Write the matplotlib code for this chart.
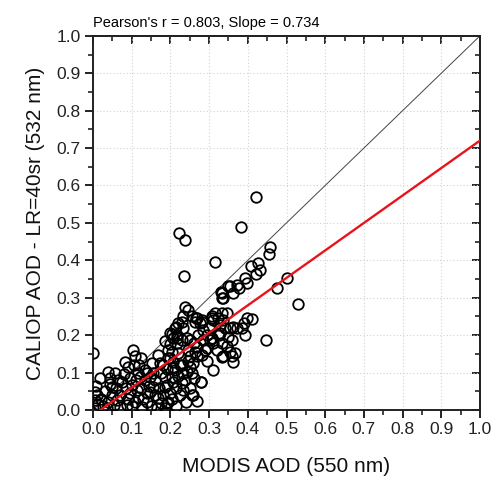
import numpy as np
import matplotlib
matplotlib.use('Agg')
import matplotlib.pyplot as plt

plt.rcParams['font.family'] = ['Liberation Sans', 'DejaVu Sans']

# MODIS AOD (x) / CALIOP AOD (y)
modis_aod = [
    0.421, 0.383, 0.221, 0.238, 0.235, 0.315, 0.458, 0.456, 0.407, 0.427, 0.432, 0.420,
    0.394, 0.397, 0.376, 0.354, 0.332, 0.363, 0.337, 0.476, 0.500, 0.531, 0.446,
    0.410, 0.397, 0.389, 0.384, 0.393, 0.363, 0.358, 0.350, 0.371, 0.333, 0.333,
    0.307, 0.315, 0.333, 0.345, 0.324, 0.337, 0.311, 0.328, 0.302, 0.285, 0.294, 0.328,
    0.354, 0.371, 0.350, 0.333, 0.333, 0.354, 0.367, 0.363, 0.336, 0.309, 0.278, 0.268,
    0.259, 0.294, 0.268, 0.268, 0.281, 0.264, 0.307,
    0.238, 0.246, 0.255, 0.268, 0.281, 0.264, 0.233, 0.229, 0.220, 0.212, 0.199, 0.216,
    0.229, 0.242, 0.208, 0.266, 0.281, 0.277, 0.307, 0.214, 0.233, 0.203, 0.216, 0.251,
    0.186, 0.216, 0.278, 0.255, 0.233, 0.199, 0.195, 0.177, 0.208, 0.212, 0.233, 0.208,
    0.229, 0.238, 0.186, 0.190, 0.203, 0.220, 0.203, 0.251, 0.259, 0.242, 0.225, 0.245,
    0.195, 0.180, 0.215, 0.250, 0.260,
    0.000, 0.103, 0.108, 0.082, 0.090, 0.039, 0.058, 0.017, 0.043, 0.168, 0.172, 0.004,
    0.004, 0.048, 0.124, 0.134, 0.121, 0.100, 0.096, 0.113, 0.109, 0.087, 0.070, 0.061,
    0.147, 0.152, 0.156, 0.147, 0.169, 0.139, 0.126, 0.190, 0.186, 0.208, 0.199,
    0.010, 0.020, 0.012, 0.025, 0.030, 0.040, 0.050, 0.060, 0.070, 0.075, 0.085, 0.090,
    0.100, 0.110, 0.115, 0.120, 0.125, 0.130, 0.135, 0.140, 0.145, 0.150, 0.155, 0.160,
    0.160, 0.165, 0.170, 0.175, 0.180, 0.185, 0.190, 0.195, 0.200, 0.205, 0.215, 0.220,
    0.225, 0.230, 0.240, 0.245, 0.250, 0.255, 0.262, 0.272, 0.285, 0.290, 0.295, 0.300,
    0.310, 0.320, 0.325, 0.340, 0.345, 0.360, 0.035, 0.055, 0.045, 0.065, 0.080, 0.095,
    0.105, 0.115, 0.140, 0.005, 0.008,
]
caliop_aod = [
    0.570, 0.490, 0.474, 0.453, 0.358, 0.395, 0.435, 0.416, 0.386, 0.392, 0.374, 0.364,
    0.352, 0.339, 0.327, 0.332, 0.314, 0.312, 0.298, 0.327, 0.354, 0.283, 0.187,
    0.242, 0.245, 0.232, 0.218, 0.201, 0.223, 0.187, 0.330, 0.334, 0.312, 0.298,
    0.250, 0.258, 0.258, 0.258, 0.245, 0.241, 0.241, 0.227, 0.187, 0.187, 0.201, 0.205,
    0.218, 0.218, 0.196, 0.178, 0.141, 0.156, 0.152, 0.127, 0.143, 0.107, 0.074, 0.024,
    0.040, 0.165, 0.169, 0.143, 0.147, 0.156, 0.192,
    0.275, 0.267, 0.250, 0.245, 0.236, 0.236, 0.250, 0.236, 0.232, 0.218, 0.205, 0.201,
    0.187, 0.192, 0.192, 0.247, 0.241, 0.232, 0.245, 0.223, 0.218, 0.202, 0.192, 0.187,
    0.183, 0.178, 0.076, 0.040, 0.053, 0.044, 0.022, 0.018, 0.129, 0.107, 0.098, 0.076,
    0.071, 0.080, 0.089, 0.067, 0.089, 0.152, 0.156, 0.143, 0.125, 0.102, 0.120, 0.160,
    0.140, 0.120, 0.060, 0.115, 0.085,
    0.153, 0.160, 0.144, 0.129, 0.116, 0.102, 0.098, 0.085, 0.085, 0.147, 0.125, 0.049,
    0.027, 0.062, 0.138, 0.107, 0.089, 0.067, 0.045, 0.053, 0.022, 0.013, 0.009, 0.027,
    0.089, 0.125, 0.062, 0.049, 0.031, 0.022, 0.009, 0.018, 0.062, 0.111, 0.138,
    0.040, 0.030, 0.015, 0.010, 0.050, 0.020, 0.040, 0.060, 0.040, 0.075, 0.060, 0.030,
    0.010, 0.080, 0.100, 0.120, 0.060, 0.030, 0.080, 0.100, 0.065, 0.010, 0.100, 0.080,
    0.040, 0.005, 0.060, 0.100, 0.040, 0.005, 0.110, 0.160, 0.175, 0.030, 0.010, 0.090,
    0.040, 0.120, 0.020, 0.130, 0.060, 0.100, 0.180, 0.200, 0.215, 0.160, 0.130, 0.220,
    0.180, 0.160, 0.200, 0.220, 0.170, 0.145, 0.005, 0.012, 0.070, 0.080, 0.095, 0.085,
    0.120, 0.035, 0.045, 0.005, 0.065,
]
pearson_r = 0.803
slope = 0.734
intercept = -0.014

fig = plt.figure(figsize=(5.0, 4.84), dpi=100)
ax = fig.add_axes([0.186, 0.153, 0.774, 0.773])

ax.grid(True, color='#d2d2d2', linestyle=(0, (1, 2)), linewidth=0.8)
ax.set_axisbelow(True)

ax.plot([0, 1], [0, 1], color='#444444', linewidth=0.7, zorder=2)
ax.plot(modis_aod, caliop_aod, 'o', mfc='none', mec='black', ms=7.6, mew=1.3, zorder=3)
xl = np.array([0.0, 1.0])
ax.plot(xl, slope * xl + intercept, color='#e8141c', linewidth=1.7, zorder=4)

ax.set_xlim(0, 1)
ax.set_ylim(0, 1)
ticks = np.round(np.arange(0, 1.01, 0.1), 1)
ax.set_xticks(ticks)
ax.set_yticks(ticks)
ax.set_xticks(np.arange(0.05, 1, 0.1), minor=True)
ax.set_yticks(np.arange(0.05, 1, 0.1), minor=True)
ax.set_xticklabels(['%.1f' % t for t in ticks])
ax.set_yticklabels(['%.1f' % t for t in ticks])
ax.tick_params(which='major', direction='out', length=6, width=1.4, labelsize=12.5, colors='#222222', pad=3)
ax.tick_params(which='minor', direction='out', length=3.5, width=1.2, colors='#222222')

# mirrored ticks on top and right, pointing in
top = ax.secondary_xaxis('top')
top.set_xticks(ticks)
top.set_xticks(np.arange(0.05, 1, 0.1), minor=True)
top.tick_params(which='major', direction='in', length=6, width=1.4, labeltop=False, colors='#222222')
top.tick_params(which='minor', direction='in', length=3.5, width=1.2, colors='#222222')
right = ax.secondary_yaxis('right')
right.set_yticks(ticks)
right.set_yticks(np.arange(0.05, 1, 0.1), minor=True)
right.tick_params(which='major', direction='in', length=6, width=1.4, labelright=False, colors='#222222')
right.tick_params(which='minor', direction='in', length=3.5, width=1.2, colors='#222222')

for a in (ax, top, right):
    for s in a.spines.values():
        s.set_linewidth(1.4)
        s.set_color('#222222')

ax.set_xlabel('MODIS AOD (550 nm)', fontsize=15, labelpad=14, color='#111111')
ax.set_ylabel('CALIOP AOD - LR=40sr (532 nm)', fontsize=15, labelpad=8, color='#111111')
ax.set_title("Pearson's r = %.3f, Slope = %.3f" % (pearson_r, slope), loc='left', fontsize=10.5, pad=6)

fig.savefig('out.png', dpi=100)
